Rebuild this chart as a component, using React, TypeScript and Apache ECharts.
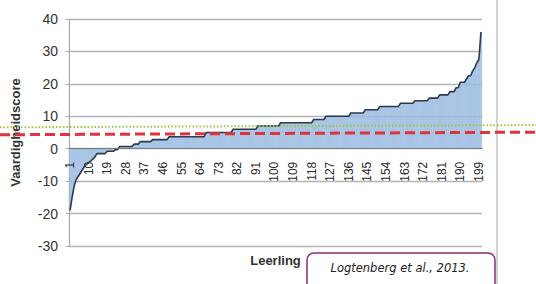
import React, { useEffect, useRef } from "react";
import * as echarts from "echarts";

const categories: string[] = Array.from({ length: 200 }, (_, i) => String(i + 1));

const scores: number[] = [
  -19, -15, -11.5, -9.5, -8.5, -7.5, -6.5, -5.5, -4.8, -4.3,
  -3.8, -3.2, -2.6, -1.5, -1.5, -1.5, -1.5, -1.5, -0.8, -0.8,
  -0.8, -0.8, -0.3, -0.3, 0.7, 0.7, 0.7, 0.7, 0.7, 0.7,
  0.7, 1.4, 1.4, 1.4, 2.2, 2.2, 2.2, 2.2, 2.2, 2.2,
  2.8, 2.8, 2.8, 2.8, 2.8, 2.8, 2.8, 2.8, 3.7, 3.7,
  3.7, 3.7, 3.7, 3.7, 3.7, 3.7, 3.7, 3.7, 3.7, 3.7,
  3.7, 3.7, 3.7, 3.7, 3.7, 3.7, 5, 5, 5, 5,
  5, 5, 5, 5, 5, 5, 5, 5, 5, 6,
  6, 6, 6, 6, 6, 6, 6, 6, 6, 6,
  6, 7, 7, 7, 7, 7, 7, 7, 7, 7,
  7, 7, 8, 8, 8, 8, 8, 8, 8, 8,
  8, 8, 8, 8, 8, 8, 8, 8, 9, 9,
  9, 9, 9, 9, 10, 10, 10, 10, 10, 10,
  10, 10, 10, 10, 10, 10, 11, 11, 11, 11,
  11, 11, 11, 12, 12, 12, 12, 12, 12, 12,
  13, 13, 13, 13, 13, 13, 13, 13, 13, 13,
  14, 14, 14, 14, 14, 14, 14, 14.8, 14.8, 14.8,
  14.8, 14.8, 14.8, 14.8, 15.6, 15.6, 15.6, 15.6, 15.6, 16.6,
  16.6, 16.6, 16.6, 16.6, 17.6, 17.6, 17.6, 18.8, 18.8, 20.5,
  20.5, 20.5, 21.5, 22.5, 22.5, 24, 25, 26.5, 27.5, 36,
];

const yMin = -30;
const yMax = 40;
const yInterval = 10;

// reference lines drawn across the slide: [value at left edge, value at right edge]
const redThreshold: number[] = [4.3, 5.1];
const greenThreshold: number[] = [6.6, 7.3];

const xAxisTitle = "Leerling";
const yAxisTitle = "Vaardigheidscore";
const sourceText = "Logtenberg et al., 2013.";

export default function App() {
  const ref = useRef<HTMLDivElement>(null);

  useEffect(() => {
    if (!ref.current) return;
    const chart = echarts.init(ref.current, null, { renderer: "svg" });
    chart.setOption({
      animation: false,
      backgroundColor: "#ffffff",
      grid: {
        left: 69,
        right: 54,
        top: 19,
        bottom: 38,
        containLabel: false,
        outerBoundsMode: "none",
      },
      xAxis: {
        type: "category",
        data: categories,
        boundaryGap: true,
        position: "bottom",
        offset: 0,
        z: 10,
        name: xAxisTitle,
        nameLocation: "middle",
        nameGap: 105,
        nameTextStyle: {
          fontFamily: "Liberation Sans",
          fontWeight: "bold",
          fontSize: 13,
          color: "#333",
          verticalAlign: "top",
        },
        axisLine: { onZero: false, lineStyle: { color: "#7a7a7a", width: 1.2 } },
        axisTick: { show: false },
        axisLabel: {
          interval: 8,
          rotate: 90,
          margin: 13,
          fontFamily: "Liberation Sans",
          fontSize: 12,
          color: "#2a2a2a",
        },
        splitLine: { show: false },
      },
      yAxis: {
        type: "value",
        min: yMin,
        max: yMax,
        interval: yInterval,
        name: yAxisTitle,
        nameLocation: "middle",
        nameGap: 47,
        nameTextStyle: {
          fontFamily: "Liberation Sans",
          fontWeight: "bold",
          fontSize: 13,
          color: "#333",
        },
        axisLine: { show: true, lineStyle: { color: "#a8a8a8", width: 1.2 } },
        axisTick: { show: true, length: 3, lineStyle: { color: "#a8a8a8" } },
        axisLabel: {
          margin: 11,
          fontFamily: "Liberation Sans",
          fontSize: 14,
          color: "#333",
        },
        splitLine: { show: true, lineStyle: { color: "#b4b4b4", width: 1.3 } },
      },
      series: [
        {
          type: "bar",
          data: scores,
          barCategoryGap: "0%",
          itemStyle: {
            color: "#a9c8ea",
            borderColor: "#86a8d4",
            borderWidth: 0.5,
            opacity: 0.9,
          },
          z: 2,
        },
        {
          type: "line",
          data: scores,
          symbol: "none",
          smooth: false,
          lineStyle: { color: "#2c3a4c", width: 1.6 },
          z: 3,
        },
      ],
    });

    const yPix = (v: number) => chart.convertToPixel({ yAxisIndex: 0 }, v) as number;
    const W = 536;
    // put the category axis (line, labels, name) at value 0, as in the reference
    const zeroOffset = yPix(0) - yPix(yMin);
    chart.setOption({
      xAxis: { offset: zeroOffset },
      graphic: [
        {
          type: "line",
          z: 50,
          shape: { x1: 497, y1: 0, x2: 497, y2: 284 },
          style: { stroke: "#c4c4c4", lineWidth: 1.5 },
        },
        {
          type: "line",
          z: 60,
          shape: { x1: 0, y1: yPix(greenThreshold[0]), x2: W, y2: yPix(greenThreshold[1]) },
          style: { stroke: "#9cc83c", lineWidth: 2, lineDash: [1.5, 2] },
        },
        {
          type: "line",
          z: 61,
          shape: { x1: 0, y1: yPix(redThreshold[0]), x2: W, y2: yPix(redThreshold[1]) },
          style: { stroke: "#e0323c", lineWidth: 3, lineDash: [10, 5] },
        },
        {
          type: "rect",
          z: 70,
          shape: { x: 307, y: 253, width: 188, height: 42, r: 7 },
          style: { fill: "#ffffff", stroke: "#8b2c78", lineWidth: 1.5 },
        },
        {
          type: "text",
          z: 71,
          x: 400,
          y: 268,
          style: {
            text: sourceText,
            align: "center",
            verticalAlign: "middle",
            fontFamily: "DejaVu Sans",
            fontStyle: "italic",
            fontSize: 11.5,
            fill: "#222",
          },
        },
      ],
    });

    return () => chart.dispose();
  }, []);

  return (
    <div
      ref={ref}
      style={{ position: "fixed", left: 0, top: 0, width: 536, height: 284 }}
    />
  );
}
